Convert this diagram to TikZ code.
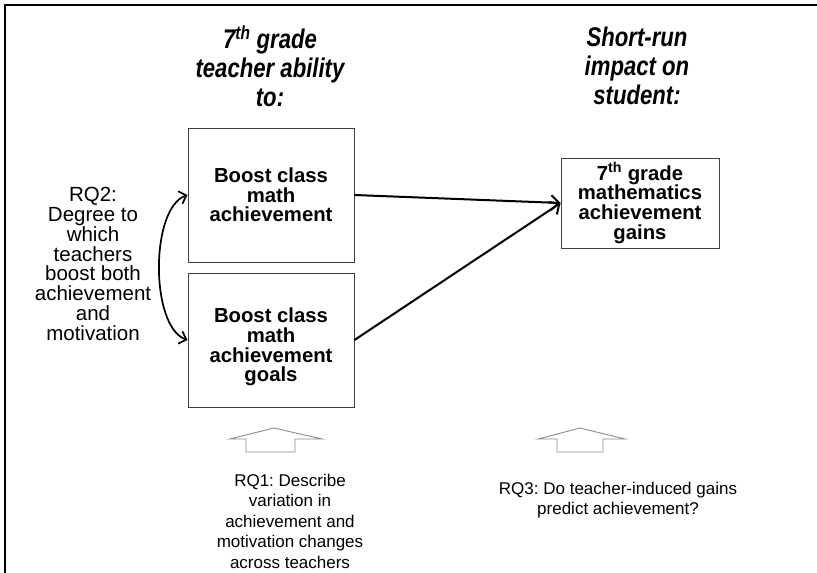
\documentclass[tikz,border=0pt]{standalone}
\usepackage{fontspec}
\setmainfont{Liberation Sans}
\newfontfamily\hdfont[FakeStretch=0.82]{Liberation Sans}
\usetikzlibrary{arrows.meta}
\frenchspacing
\tikzset{
  boxframe/.style={draw=black!75, line width=0.9pt, fill=white, inner sep=0pt},
  boxtext/.style={align=center, inner sep=0pt, font=\fontsize{20.3}{19.6}\selectfont\bfseries},
  box/.style={boxframe, boxtext},
  header/.style={align=center, inner sep=0pt, font=\hdfont\fontsize{27}{29}\selectfont\bfseries\itshape},
  plain/.style={align=center, inner sep=0pt, font=\fontsize{20.5}{19.8}\selectfont},
  small/.style={align=center, inner sep=0pt, font=\fontsize{17}{20.5}\selectfont},
  conn/.style={line width=2pt, -{Straight Barb[length=8pt,width=15pt,line width=2pt]}},
  bidir/.style={line width=1.7pt, {Straight Barb[length=6.5pt,width=13pt,line width=1.7pt]}-{Straight Barb[length=6.5pt,width=13pt,line width=1.7pt]}},
  blockarrow/.style={draw=black!45, line width=0.9pt},
  frame/.style={line width=2pt, black}
}
\begin{document}
\begin{tikzpicture}[x=1pt,y=-1pt]
\useasboundingbox (0,0) rectangle (817,573);
\draw[frame] (5,573) -- (5,5) -- (817,5);

\node[header] (h1) at (270,66) {7\textsuperscript{th} grade\\teacher ability\\to:};
\node[header] (h2) at (637,66) {Short-run\\impact on\\student:};

\node[box, minimum width=166pt, minimum height=134pt] (b1) at (271,195) {Boost class\\math\\achievement};
\node[boxframe, minimum width=166pt, minimum height=134pt] (b2) at (271,340) {};
\node[boxtext] (b2t) at (271,347) {Boost class\\math\\achievement\\goals};
\node[box, minimum width=158pt, minimum height=90pt] (b3) at (640,203) {7\textsuperscript{th} grade\\mathematics\\achievement\\gains};

\coordinate (t3) at (b3.west);
\draw[conn] (b1.east) -- (t3);
\draw[conn] (b2.east |- 0,340) -- (t3);

\draw[bidir] (b1.west) .. controls (150,208) and (150,327) .. (b2.west);

\node[plain] (rq2) at (93,264) {RQ2:\\Degree to\\which\\teachers\\boost both\\achievement\\and\\motivation};

\draw[blockarrow] (230,439) -- (274,428) -- (322,439) -- (295,439) -- (295,452) -- (246,452) -- (246,439) -- cycle;
\draw[blockarrow] (538,439) -- (580,428) -- (625,439) -- (603,439) -- (603,452) -- (557,452) -- (557,439) -- cycle;

\node[small] (rq1) at (290,521) {RQ1: Describe\\variation in\\achievement and\\motivation changes\\across teachers};
\node[small] (rq3) at (618,500) {RQ3: Do teacher-induced gains\\predict achievement?};
\end{tikzpicture}
\end{document}
